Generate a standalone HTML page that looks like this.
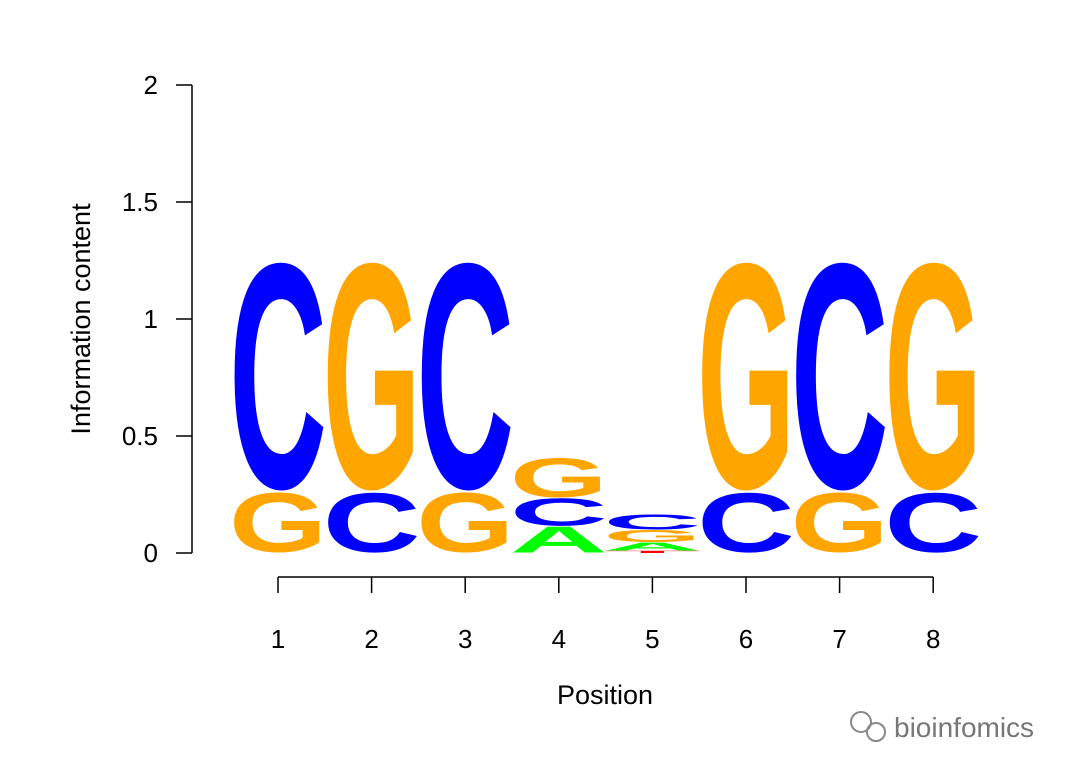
<!DOCTYPE html>
<html><head><meta charset="utf-8"><style>
html,body{margin:0;padding:0;background:#fff}
svg{display:block}
text{font-family:"Liberation Sans",Arial,sans-serif}
</style></head><body>
<svg id="chart" width="1080" height="772" viewBox="0 0 1080 772" xmlns="http://www.w3.org/2000/svg">
<g id="axes"></g>
<g id="letters"></g>
<text transform="translate(90,319) rotate(-90)" text-anchor="middle" font-size="27" fill="#000">Information content</text>
<text x="605" y="704" text-anchor="middle" font-size="27" fill="#000">Position</text>
<g>
<circle cx="861" cy="722" r="10" fill="none" stroke="#888" stroke-width="2"/>
<circle cx="876" cy="732" r="9" fill="none" stroke="#888" stroke-width="2"/>
<text x="894" y="737" font-size="28" fill="#777">bioinfomics</text>
</g>
</svg>
<script>
const positions = [1,2,3,4,5,6,7,8];
const yTicks = [0,0.5,1,1.5,2];
const yTickLabels = ["0","0.5","1","1.5","2"];
const heightA = [0,0,0,0.115,0.035,0,0,0];
const heightC = [0.99,0.26,0.99,0.12,0.065,0.26,0.99,0.26];
const heightG = [0.26,0.99,0.26,0.17,0.055,0.99,0.26,0.99];
const heightT = [0,0,0,0,0.01,0,0,0];

const NS = "http://www.w3.org/2000/svg";
const y = v => 553 - v * 234;
const x = p => 278 + (p - 1) * 93.6;
const colors = {A:"#00ff00", C:"#0000ff", G:"#ffa500", T:"#ff0000"};
function mk(tag, attrs, parent){ const e=document.createElementNS(NS,tag); for(const k in attrs) e.setAttribute(k,attrs[k]); parent.appendChild(e); return e; }

const axes = document.getElementById("axes");
const yl = mk("line",{x1:192,x2:192,y1:y(2),y2:y(0),stroke:"#000","stroke-width":1.5},axes);


yTicks.forEach((t,i)=>{
  const tk = mk("line",{x1:176,x2:192,y1:y(t),y2:y(t),stroke:"#000","stroke-width":1.5},axes);
  
  
  const lb = mk("text",{x:158,y:y(t)+9,"text-anchor":"end","font-size":26,fill:"#000"},axes);
  lb.textContent = yTickLabels[i];
  
  
});
const xl = mk("line",{x1:x(1),x2:x(8),y1:577,y2:577,stroke:"#000","stroke-width":1.5},axes);


positions.forEach(p=>{
  const tk = mk("line",{x1:x(p),x2:x(p),y1:577,y2:593,stroke:"#000","stroke-width":1.5},axes);
  
  
  const lb = mk("text",{x:x(p),y:648,"text-anchor":"middle","font-size":26,fill:"#000"},axes);
  lb.textContent = String(p);
  
  
});

const letters = document.getElementById("letters");
positions.forEach((p,i)=>{
  const stack = [["A",heightA[i]],["C",heightC[i]],["G",heightG[i]],["T",heightT[i]]]
    .filter(d=>d[1]>0).sort((a,b)=>a[1]-b[1]);
  let base = 0;
  stack.forEach(([b,h])=>{
    const bottom = y(base), top = y(base+h);
    const px = bottom - top;
    const g = mk("g",{transform:`translate(${x(p)},${bottom}) scale(1,${px/72})`},letters);
    
    
    const t = mk("text",{x:0,y:-1.5,"text-anchor":"middle","font-size":100,"font-weight":"bold",fill:colors[b],textLength:98,lengthAdjust:"spacingAndGlyphs"},g);
    t.textContent = b;
    base += h;
  });
});
</script>
</body></html>
